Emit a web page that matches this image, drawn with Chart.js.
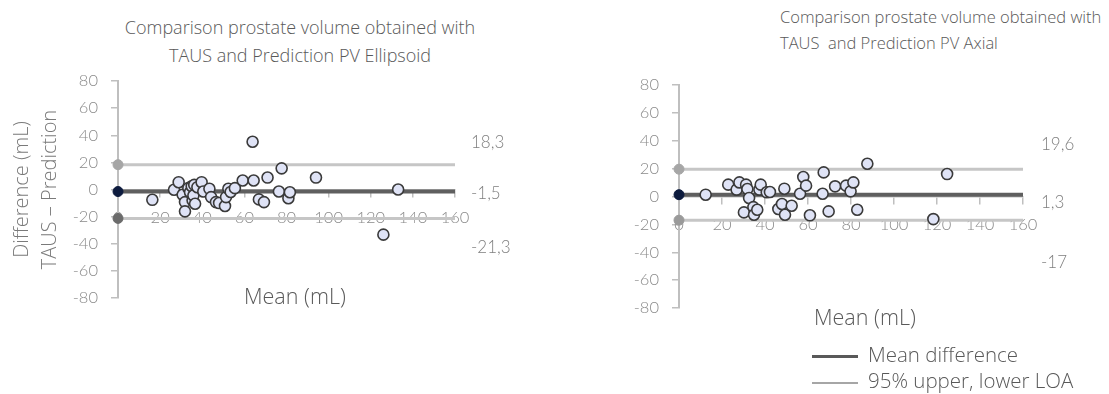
<!DOCTYPE html>
<html>
<head>
<meta charset="utf-8">
<script src="https://cdn.jsdelivr.net/npm/chart.js@4.4.1/dist/chart.umd.min.js"></script>
<style>
    body { margin: 0; background: #fff; font-family: "Open Sans", Lato, sans-serif; font-weight: 300; color: #595959; }
    #page { position: relative; width: 1109px; height: 394px; overflow: hidden; }
    .box { position: absolute; top: 0; height: 394px; }
    .title { position: absolute; font-size: 18px; line-height: 28px; white-space: pre; }
    .xtitle { position: absolute; font-size: 21.5px; white-space: pre; }
    .legend { position: absolute; left: 812px; top: 341px; font-size: 20.5px; }
    .legend div { height: 26px; line-height: 26px; white-space: pre; }
    .legend span { display: inline-block; width: 46px; vertical-align: middle; margin-right: 10px; }
</style>
</head>
<body>
<div id="page">
    <div class="title" style="left:0;width:600px;top:13px;text-align:center">Comparison prostate volume obtained with
TAUS and Prediction PV Ellipsoid</div>
    <div class="title" style="left:780px;top:4px;line-height:26px;font-size:16.5px">Comparison prostate volume obtained with
TAUS  and Prediction PV Axial</div>
    <div class="box" style="left:0;width:560px"><canvas id="chartEllipsoid"></canvas></div>
    <div class="box" style="left:560px;width:549px"><canvas id="chartAxial"></canvas></div>
    <div class="xtitle" style="left:244px;top:281px">Mean (mL)</div>
    <div class="xtitle" style="left:814px;top:302px">Mean (mL)</div>
    <div class="legend">
        <div><span style="border-top:3px solid #595959"></span>Mean difference</div>
        <div><span style="border-top:2px solid #a6a6a6"></span>95% upper, lower LOA</div>
    </div>
</div>
<script>
// Axis ticks
const xTicks = [0, 20, 40, 60, 80, 100, 120, 140, 160];
const yTicks = [-80, -60, -40, -20, 0, 20, 40, 60, 80];

// Ellipsoid: mean of TAUS and prediction vs difference
const ellipsoidMean = [16.3, 26.6, 28.8, 30.7, 31.8, 31.8, 33.4, 34.2, 35, 35.4, 35.8, 36.2, 36.6, 37.7, 39.7, 40.5,
    43.4, 44.2, 46.5, 48, 50.8, 51.3, 52.4, 53.5, 55.5, 59.2, 63.9, 64.4, 66.9, 69.3, 71, 76.4, 77.7, 80.9, 81.6, 94, 126, 133];
const ellipsoidDiff = [-7.6, -0.2, 5.4, -3.9, -9.3, -16.1, 1, -2, 2.4, -8, -4.4, 3.4, -10.5, 1.7, 5.4, -1.5,
    0.5, -5.6, -9.3, -10, -12.2, -5.6, 0.5, -1.8, 1, 6.6, 35.2, 6.6, -7.3, -9.3, 8.8, -1.5, 15.6, -6.4, -2, 8.8, -33.3, 0];
const ellipsoidLines = [18.3, -1.5, -21.3]; // upper LOA, mean difference, lower LOA
const ellipsoidLabels = ['18,3', '-1,5', '-21,3'];

// Axial
const axialMean = [12.4, 22.9, 26.8, 28.1, 30.2, 31.2, 31.8, 32.6, 34.6, 34.9, 36.4, 37.4, 38, 40.8, 42.3, 46.2,
    47.9, 49, 49.3, 52.4, 56.3, 57.8, 59.1, 60.9, 66.8, 67.3, 69.6, 72.6, 77.7, 79.8, 81.1, 82.9, 87.6, 118.3, 124.7];
const axialDiff = [1.3, 8.5, 4.9, 10.1, -11.4, 8.5, 5.4, -1.1, -7.6, -13.1, -9.5, 4.9, 8.5, 3, 3.2, -9,
    -5.4, 5.6, -13.1, -6.6, 2, 14, 7.8, -13.5, 2, 17.3, -10.7, 7.3, 7.8, 3.7, 10.1, -9.5, 23.5, -16.2, 16.1];
const axialLines = [19.6, 1.3, -17];
const axialLabels = ['19,6', '1,3', '-17'];

const FONT = '"Open Sans", Lato, sans-serif';
const TICK_FONT = 'Lato, "Open Sans", sans-serif';
const TICK_COLOR = '#8a8a8a';
const AXIS_COLOR = '#bfbfbf';

// writes the LOA values to the right of the plot
const sideLabels = {
    id: 'sideLabels',
    afterDraw(chart, args, opts) {
        const ctx = chart.ctx;
        const y = chart.scales.y;
        ctx.save();
        ctx.font = '300 17px ' + TICK_FONT;
        ctx.fillStyle = '#7f7f7f';
        ctx.textBaseline = 'middle';
        opts.texts.forEach((t, i) => {
            ctx.fillText(t, chart.chartArea.right + opts.gap, y.getPixelForValue(opts.at[i]));
        });
        ctx.restore();
    }
};

function hLine(value, color, width, dotColor, order) {
    return {
        type: 'line',
        data: [{x: xTicks[0], y: value}, {x: xTicks[xTicks.length - 1], y: value}],
        borderColor: color,
        borderWidth: width,
        pointRadius: [5, 0],
        pointBackgroundColor: dotColor,
        pointBorderColor: dotColor,
        pointBorderWidth: 1,
        clip: false,
        order: order
    };
}

function makeChart(id, xs, ys, lines, texts, opts) {
    const points = xs.map((x, i) => ({x: x, y: ys[i]}));
    return new Chart(document.getElementById(id), {
        type: 'scatter',
        data: {
            datasets: [
                {
                    data: points,
                    pointRadius: 5.5,
                    pointBackgroundColor: '#dfe3f6',
                    pointBorderColor: '#3a3a3a',
                    pointBorderWidth: 1.6,
                    clip: false,
                    order: 0
                },
                hLine(lines[1], '#5f5f5f', 4, '#0d1b3e', 1),
                hLine(lines[0], '#c6c6c6', 3, '#a6a6a6', 2),
                hLine(lines[2], '#c6c6c6', 3, opts.lowDot, 2)
            ]
        },
        options: {
            responsive: true,
            maintainAspectRatio: false,
            animation: false,
            events: [],
            layout: { padding: opts.padding },
            plugins: {
                legend: { display: false },
                tooltip: { enabled: false },
                sideLabels: { texts: texts, at: opts.labelAt, gap: opts.gap }
            },
            scales: {
                x: {
                    type: 'linear',
                    position: { y: 0 },
                    min: xTicks[0],
                    max: xTicks[xTicks.length - 1],
                    afterBuildTicks: s => { s.ticks = xTicks.map(v => ({value: v})); },
                    grid: { drawOnChartArea: false, drawTicks: true, tickLength: 7, color: AXIS_COLOR, lineWidth: 1.5 },
                    border: { color: AXIS_COLOR, width: 1.5 },
                    ticks: { color: TICK_COLOR, font: { family: TICK_FONT, size: 16.5, weight: 300 }, padding: 11, maxRotation: 0, autoSkip: false }
                },
                y: {
                    type: 'linear',
                    min: yTicks[0],
                    max: yTicks[yTicks.length - 1],
                    afterBuildTicks: s => { s.ticks = yTicks.map(v => ({value: v})); },
                    afterFit: s => { s.width = opts.yWidth; },
                    grid: { drawOnChartArea: false, drawTicks: true, tickLength: 7, color: AXIS_COLOR, lineWidth: 1.5 },
                    border: { color: AXIS_COLOR, width: 2 },
                    ticks: { color: TICK_COLOR, font: { family: TICK_FONT, size: 16.5, weight: 300 }, padding: 13 },
                    title: {
                        display: opts.yTitle !== null,
                        text: opts.yTitle || '',
                        color: '#7a7a7a',
                        font: { family: FONT, size: 20, weight: 300, lineHeight: 1.4 },
                        padding: { top: 8, bottom: 0 }
                    }
                }
            }
        },
        plugins: [sideLabels]
    });
}

makeChart('chartEllipsoid', ellipsoidMean, ellipsoidDiff, ellipsoidLines, ellipsoidLabels, {
    padding: { top: 81, bottom: 96, right: 105, left: 0 },
    yWidth: 118,
    yTitle: ['Difference (mL)', 'TAUS \u2013 Prediction'],
    labelAt: [35, -2.6, -43],
    gap: 16,
    lowDot: '#6b6b6b'
});

makeChart('chartAxial', axialMean, axialDiff, axialLines, axialLabels, {
    padding: { top: 85, bottom: 86, right: 86, left: 0 },
    yWidth: 119,
    yTitle: null,
    labelAt: [37, -4, -47.5],
    gap: 18,
    lowDot: '#9a9a9a'
});
</script>
</body>
</html>
